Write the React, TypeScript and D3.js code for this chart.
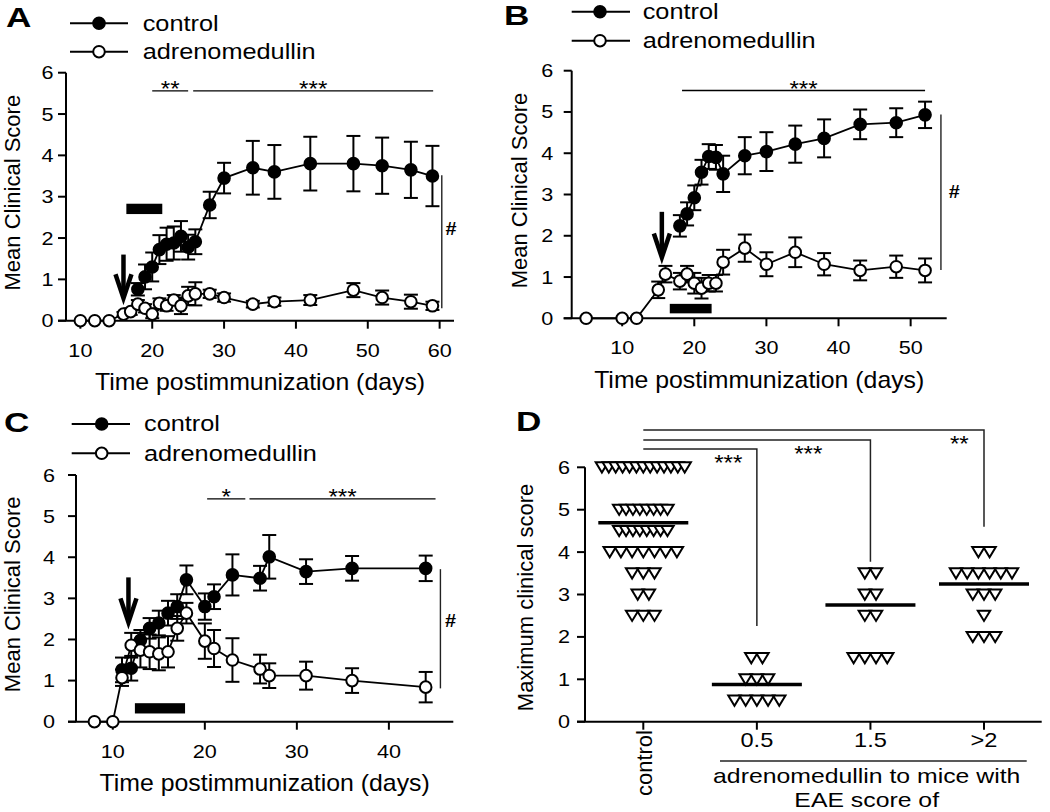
import React from 'react';
import * as d3 from 'd3';

const FONT = '"Liberation Sans", Arial, Helvetica, sans-serif';

// ---------- Panel A data ----------
const aCtrlDays = [18, 19, 20, 21, 22, 23, 24, 25, 26, 28, 30, 34, 37, 42, 48, 52, 56, 59];
const aCtrlVals = [0.76, 1.06, 1.3, 1.72, 1.85, 1.88, 2.04, 1.78, 1.91, 2.8, 3.45, 3.7, 3.6, 3.8, 3.8, 3.75, 3.65, 3.5];
const aCtrlErrs = [0.15, 0.3, 0.35, 0.35, 0.4, 0.4, 0.37, 0.3, 0.3, 0.32, 0.37, 0.65, 0.65, 0.65, 0.67, 0.68, 0.68, 0.73];
const aAdmDays = [10, 12, 14, 16, 17, 18, 19, 20, 21, 22, 23, 24, 25, 26, 28, 30, 34, 37, 42, 48, 52, 56, 59];
const aAdmVals = [0, 0, 0, 0.16, 0.22, 0.4, 0.3, 0.16, 0.42, 0.36, 0.5, 0.36, 0.6, 0.65, 0.65, 0.56, 0.4, 0.46, 0.5, 0.74, 0.56, 0.46, 0.36];
const aAdmErrs = [0, 0, 0, 0.05, 0.08, 0.1, 0.1, 0.1, 0.12, 0.12, 0.12, 0.2, 0.22, 0.28, 0.1, 0.1, 0.08, 0.1, 0.12, 0.17, 0.17, 0.17, 0.1];

// ---------- Panel B data ----------
const bCtrlDays = [18, 19, 20, 21, 22, 23, 24, 27, 30, 34, 38, 43, 48, 52];
const bCtrlVals = [2.24, 2.53, 2.92, 3.54, 3.92, 3.9, 3.5, 3.94, 4.04, 4.22, 4.36, 4.7, 4.74, 4.93];
const bCtrlErrs = [0.26, 0.28, 0.3, 0.3, 0.3, 0.3, 0.44, 0.45, 0.47, 0.45, 0.46, 0.36, 0.35, 0.32];
const bAdmDays = [5, 10, 12, 15, 16, 18, 19, 20, 21, 22, 23, 24, 27, 30, 34, 38, 43, 48, 52];
const bAdmVals = [0, 0, 0, 0.69, 1.07, 0.9, 1.07, 0.85, 0.73, 0.85, 0.85, 1.36, 1.7, 1.31, 1.6, 1.31, 1.16, 1.25, 1.16];
const bAdmErrs = [0, 0, 0, 0.2, 0.2, 0.2, 0.2, 0.25, 0.25, 0.2, 0.2, 0.3, 0.33, 0.29, 0.36, 0.27, 0.24, 0.27, 0.29];

// ---------- Panel C data ----------
const cCtrlDays = [11, 12, 13, 14, 15, 16, 17, 18, 20, 21, 23, 26, 27, 31, 36, 44];
const cCtrlVals = [1.26, 1.3, 1.98, 2.27, 2.4, 2.64, 2.8, 3.45, 2.8, 3.04, 3.57, 3.49, 4.01, 3.65, 3.73, 3.73];
const cCtrlErrs = [0.3, 0.3, 0.25, 0.25, 0.3, 0.3, 0.3, 0.35, 0.32, 0.3, 0.5, 0.3, 0.53, 0.3, 0.3, 0.31];
const cAdmDays = [8, 10, 11, 12, 13, 14, 15, 16, 17, 18, 20, 21, 23, 26, 27, 31, 36, 44];
const cAdmVals = [0, 0, 1.07, 1.86, 1.74, 1.7, 1.65, 1.7, 2.27, 2.64, 1.96, 1.78, 1.5, 1.28, 1.12, 1.12, 1.0, 0.84];
const cAdmErrs = [0, 0, 0.2, 0.3, 0.42, 0.42, 0.4, 0.38, 0.3, 0.25, 0.43, 0.45, 0.53, 0.35, 0.3, 0.34, 0.3, 0.37];

// ---------- Panel D data ----------
const dCategories = ['control', '0.5', '1.5', '>2'];
const dControl = [6, 6, 6, 6, 6, 6, 6, 6, 6, 6, 6, 6, 6, 5, 5, 5, 5, 5, 5, 5, 5, 4.5, 4.5, 4.5, 4.5, 4.5, 4.5, 4.5, 4.5, 4, 4, 4, 4, 4, 4, 4, 3.5, 3.5, 3.5, 3, 3, 2.5, 2.5, 2.5];
const dScore05 = [1.5, 1.5, 1, 1, 1, 0.5, 0.5, 0.5, 0.5, 0.5];
const dScore15 = [3.5, 3.5, 3, 3, 2.5, 2.5, 1.5, 1.5, 1.5, 1.5];
const dScore2 = [4, 4, 3.5, 3.5, 3.5, 3.5, 3.5, 3.5, 3, 3, 3, 2.5, 2, 2, 2];
const dMeans = [4.69, 0.88, 2.75, 3.25];
const yTicks = [0, 1, 2, 3, 4, 5, 6];

const legendLabels = ['control', 'adrenomedullin'];

type Cfg = {
  x0: number; x1: number; yTop: number; yBot: number; domain: [number, number]; ticks: number[];
  yLabGap: number;
  ctrl: [number[], number[], number[]]; adm: [number[], number[], number[]];
  sig: { from: number; to: number; label: string }[]; sigY: number;
  bar: [number, number, number, number];
  arrow: [number, number, number];
  hash: [number, number, number, number, number];
  legend: { x0: number; x1: number; cx: number; y1: number; y2: number; tx: number };
  label: string; labelX: number; labelY: number;
  yTitleX: number;
};

function Txt(props: { x: number; y: number; size: number; anchor?: string; sx?: number; weight?: string; rot?: number; children: any }) {
  const { x, y, size, anchor = 'start', sx = 1.12, weight = 'normal', rot, children } = props;
  const tr = `translate(${x},${y})` + (rot ? ` rotate(${rot})` : '') + ` scale(${sx},1)`;
  return (
    <text transform={tr} fontSize={size} textAnchor={anchor} fontWeight={weight} fontFamily={FONT} fill="#000">
      {children}
    </text>
  );
}

function Arrow({ x, yTop, yTip }: { x: number; yTop: number; yTip: number }) {
  const t = yTip - 6;
  return (
    <g stroke="#000" strokeWidth={4.5} fill="none">
      <line x1={x} x2={x} y1={yTop} y2={t - 2} />
      <path d={`M${x - 8},${t - 24} L${x},${t} L${x + 8},${t - 24}`} strokeLinejoin="miter" />
    </g>
  );
}

function SeriesG({ x, y, data, filled }: { x: any; y: any; data: [number[], number[], number[]]; filled: boolean }) {
  const [days, vals, errs] = data;
  const pts: [number, number, number][] = days.map((d, i) => [d, vals[i], errs[i]]);
  const line = d3.line<[number, number, number]>().x(d => x(d[0])).y(d => y(d[1]));
  return (
    <g>
      <path d={line(pts) || ''} fill="none" stroke="#000" strokeWidth={1.8} />
      {pts.filter(p => p[2] > 0).map((p, i) => {
        const cx = x(p[0]);
        const yt = y(p[1] + p[2]);
        const yb = y(p[1] - p[2]);
        return (
          <g key={i} stroke="#000" strokeWidth={2}>
            <line x1={cx} x2={cx} y1={yt} y2={yb} />
            <line x1={cx - 7} x2={cx + 7} y1={yt} y2={yt} />
            <line x1={cx - 7} x2={cx + 7} y1={yb} y2={yb} />
          </g>
        );
      })}
      {pts.map((p, i) => (
        <circle key={i} cx={x(p[0])} cy={y(p[1])} r={5.8} fill={filled ? '#000' : '#fff'} stroke="#000" strokeWidth={2} />
      ))}
    </g>
  );
}

function TimePanel({ c }: { c: Cfg }) {
  const x = d3.scaleLinear().domain(c.domain).range([c.x0, c.x1]);
  const y = d3.scaleLinear().domain([0, 6]).range([c.yBot, c.yTop]);
  const L = c.legend;
  return (
    <g>
      {/* axes */}
      <g stroke="#000" strokeWidth={2}>
        <line x1={c.x0} x2={c.x0} y1={c.yTop} y2={c.yBot} />
        <line x1={c.x0 - 8} x2={c.x1} y1={c.yBot} y2={c.yBot} />
        {yTicks.map(t => <line key={t} x1={c.x0 - 8} x2={c.x0} y1={y(t)} y2={y(t)} />)}
        {c.ticks.map(t => <line key={t} x1={x(t)} x2={x(t)} y1={c.yBot} y2={c.yBot + 8} />)}
      </g>
      {yTicks.map(t => (
        <Txt key={t} x={c.x0 - c.yLabGap} y={y(t) + 6.5} size={18} anchor="end" sx={1.2}>{t}</Txt>
      ))}
      {c.ticks.map(t => (
        <Txt key={t} x={x(t)} y={c.yBot + 36} size={18} anchor="middle" sx={1.2}>{t}</Txt>
      ))}
      <Txt x={(c.x0 + c.x1) / 2} y={c.yBot + 69.5} size={23} anchor="middle" sx={1.08}>Time postimmunization (days)</Txt>
      <Txt x={c.yTitleX} y={(c.yTop + c.yBot) / 2 - 4} size={22} anchor="middle" sx={1} rot={-90}>Mean Clinical Score</Txt>

      {/* significance bars */}
      {c.sig.map((s, i) => (
        <g key={i}>
          <line x1={x(s.from)} x2={x(s.to)} y1={y(c.sigY)} y2={y(c.sigY)} stroke="#000" strokeWidth={1.3} />
          <Txt x={(x(s.from) + x(s.to)) / 2} y={y(c.sigY) + 5.5} size={22} anchor="middle" sx={1.1}>{s.label}</Txt>
        </g>
      ))}

      {/* treatment bar */}
      <rect x={x(c.bar[0])} width={x(c.bar[1]) - x(c.bar[0])} y={y(c.bar[3])} height={y(c.bar[2]) - y(c.bar[3])} fill="#000" />
      <Arrow x={x(c.arrow[0])} yTop={y(c.arrow[1])} yTip={y(c.arrow[2])} />

      {/* # bracket */}
      <line x1={x(c.hash[0])} x2={x(c.hash[0])} y1={y(c.hash[1])} y2={y(c.hash[2])} stroke="#222" strokeWidth={1.4} />
      <Txt x={x(c.hash[3])} y={y(c.hash[4]) + 6.5} size={18} weight="bold" sx={1.1}>#</Txt>

      <SeriesG x={x} y={y} data={c.ctrl} filled={true} />
      <SeriesG x={x} y={y} data={c.adm} filled={false} />

      {/* legend */}
      <g stroke="#000" strokeWidth={2}>
        <line x1={L.x0} x2={L.x1} y1={L.y1} y2={L.y1} />
        <line x1={L.x0} x2={L.x1} y1={L.y2} y2={L.y2} />
        <circle cx={L.cx} cy={L.y1} r={5.8} fill="#000" />
        <circle cx={L.cx} cy={L.y2} r={5.8} fill="#fff" />
      </g>
      <Txt x={L.tx} y={L.y1 + 7.4} size={22} sx={1.15}>{legendLabels[0]}</Txt>
      <Txt x={L.tx} y={L.y2 + 7.4} size={22} sx={1.15}>{legendLabels[1]}</Txt>

      <Txt x={c.labelX} y={c.labelY} size={27} weight="bold" sx={1.3}>{c.label}</Txt>
    </g>
  );
}

const cfgA: Cfg = {
  x0: 66, x1: 454, yTop: 72.7, yBot: 320.7, domain: [8, 62], ticks: [10, 20, 30, 40, 50, 60], yLabGap: 12.5,
  ctrl: [aCtrlDays, aCtrlVals, aCtrlErrs], adm: [aAdmDays, aAdmVals, aAdmErrs],
  sig: [{ from: 20, to: 25, label: '**' }, { from: 25.7, to: 59.1, label: '***' }], sigY: 5.56,
  bar: [16.4, 21.4, 2.58, 2.83], arrow: [16, 1.6, 0.4], hash: [60.3, 3.52, 0.3, 60.8, 2.22],
  legend: { x0: 70, x1: 128, cx: 99, y1: 23.3, y2: 51.7, tx: 142.7 },
  label: 'A', labelX: 6, labelY: 27, yTitleX: 19.5,
};
const cfgB: Cfg = {
  x0: 571.7, x1: 946.7, yTop: 70.7, yBot: 318.3, domain: [3, 55], ticks: [10, 20, 30, 40, 50], yLabGap: 18.4,
  ctrl: [bCtrlDays, bCtrlVals, bCtrlErrs], adm: [bAdmDays, bAdmVals, bAdmErrs],
  sig: [{ from: 18.3, to: 52, label: '***' }], sigY: 5.52,
  bar: [16.6, 22.4, 0.12, 0.35], arrow: [15.5, 2.58, 1.33], hash: [54.2, 4.94, 1.17, 55.3, 3.07],
  legend: { x0: 571.7, x1: 630, cx: 600, y1: 11.7, y2: 40.7, tx: 642.7 },
  label: 'B', labelX: 504, labelY: 25, yTitleX: 526.5,
};
const cfgC: Cfg = {
  x0: 76, x1: 453.3, yTop: 475, yBot: 721.7, domain: [6, 47], ticks: [10, 20, 30, 40], yLabGap: 21,
  ctrl: [cCtrlDays, cCtrlVals, cCtrlErrs], adm: [cAdmDays, cAdmVals, cAdmErrs],
  sig: [{ from: 20.25, to: 24.4, label: '*' }, { from: 24.85, to: 45.07, label: '***' }], sigY: 5.42,
  bar: [12.4, 17.85, 0.2, 0.45], arrow: [11.7, 3.51, 2.27], hash: [45.6, 3.71, 0.81, 46.1, 2.47],
  legend: { x0: 71.7, x1: 130, cx: 101.7, y1: 424, y2: 453.3, tx: 144 },
  label: 'C', labelX: 4, labelY: 432, yTitleX: 20,
};

function PanelD() {
  const x = d3.scalePoint<string>().domain(dCategories).range([643.3, 984]);
  const y = d3.scaleLinear().domain([0, 6]).range([721.7, 467.3]);
  const groups = [dControl, dScore05, dScore15, dScore2];
  const tri = (cx: number, cy: number) => `M${cx - 6.2},${cy - 5} L${cx + 6.2},${cy - 5} L${cx},${cy + 5.2} Z`;
  const marks: { cx: number; cy: number }[] = [];
  groups.forEach((vals, gi) => {
    const counts = d3.rollups(vals, v => v.length, v => v);
    counts.forEach(([v, n]) => {
      const sp = n >= 8 ? 6.9 : 11.2;
      for (let i = 0; i < n; i++) {
        marks.push({ cx: (x(dCategories[gi]) as number) + (i - (n - 1) / 2) * sp, cy: y(v) });
      }
    });
  });
  const cx0 = x('control') as number;
  const comps = [
    { cat: '>2', lineY: 430, endVal: 4.6, label: '**', lx: 959.3 },
    { cat: '1.5', lineY: 440, endVal: 3.77, label: '***', lx: 808.3 },
    { cat: '0.5', lineY: 449, endVal: 2.26, label: '***', lx: 728.3 },
  ];
  return (
    <g>
      <g stroke="#000" strokeWidth={2}>
        <line x1={585} x2={585} y1={y(6)} y2={y(0)} />
        <line x1={577} x2={1041.7} y1={y(0)} y2={y(0)} />
        {yTicks.map(t => <line key={t} x1={577} x2={585} y1={y(t)} y2={y(t)} />)}
        {dCategories.map(cat => <line key={cat} x1={x(cat)} x2={x(cat)} y1={y(0)} y2={y(0) + 8} />)}
      </g>
      {yTicks.map(t => (
        <Txt key={t} x={570} y={y(t) + 6.5} size={18} anchor="end" sx={1.2}>{t}</Txt>
      ))}
      {dCategories.slice(1).map(cat => (
        <Txt key={cat} x={x(cat) as number} y={747.3} size={20} anchor="middle" sx={1.18}>{cat}</Txt>
      ))}
      <Txt x={651.5} y={730} size={22} anchor="end" sx={1} rot={-90}>{dCategories[0]}</Txt>
      <line x1={720} x2={1026.7} y1={761} y2={761} stroke="#222" strokeWidth={1.5} />
      <Txt x={866.7} y={782.5} size={20} anchor="middle" sx={1.24}>adrenomedullin to mice with</Txt>
      <Txt x={866.7} y={806.5} size={20} anchor="middle" sx={1.24}>EAE score of</Txt>
      <Txt x={533} y={597.5} size={22} anchor="middle" sx={1} rot={-90}>Maximum clinical score</Txt>

      {comps.map((cp, i) => (
        <g key={i}>
          <path d={`M${cx0},${cp.lineY} H${x(cp.cat)} V${y(cp.endVal)}`} fill="none" stroke="#222" strokeWidth={1.5} />
          <Txt x={cp.lx} y={cp.lineY + 21} size={22} anchor="middle" sx={1.1}>{cp.label}</Txt>
        </g>
      ))}

      {marks.map((m, i) => (
        <path key={i} d={tri(m.cx, m.cy)} fill="#fff" stroke="#000" strokeWidth={2} strokeLinejoin="miter" />
      ))}
      {dMeans.map((mv, i) => (
        <line key={i} x1={(x(dCategories[i]) as number) - 45} x2={(x(dCategories[i]) as number) + 45} y1={y(mv)} y2={y(mv)} stroke="#000" strokeWidth={3.5} />
      ))}
      <Txt x={516} y={431} size={27} weight="bold" sx={1.3}>D</Txt>
    </g>
  );
}

export default function App() {
  return (
    <svg width={1050} height={812} viewBox="0 0 1050 812" style={{ position: 'absolute', left: 0, top: 0, background: '#fff' }}>
      <rect x={0} y={0} width={1050} height={812} fill="#fff" />
      <TimePanel c={cfgA} />
      <TimePanel c={cfgB} />
      <TimePanel c={cfgC} />
      <PanelD />
    </svg>
  );
}
